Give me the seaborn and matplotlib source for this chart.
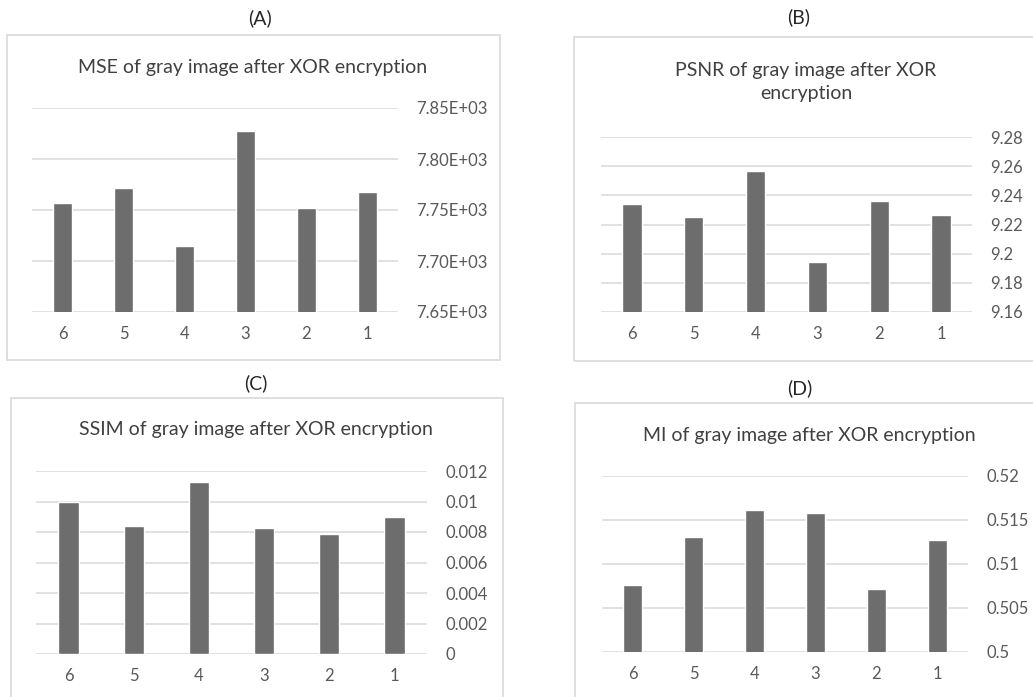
import seaborn as sns
import pandas as pd
import matplotlib.pyplot as plt
import numpy as np
from matplotlib.patches import Rectangle
from matplotlib.ticker import FuncFormatter

categories = ["6", "5", "4", "3", "2", "1"]
mse_values = [7757, 7772, 7715, 7827, 7752, 7768]
psnr_values = [9.2338, 9.2249, 9.2567, 9.1941, 9.2361, 9.2265]
ssim_values = [0.00997, 0.00837, 0.01126, 0.00828, 0.00784, 0.00896]
mi_values = [0.50757, 0.51312, 0.51612, 0.51574, 0.50719, 0.5127]

panel_labels = ["(A)", "(B)", "(C)", "(D)"]
titles = ["MSE of gray image after XOR encryption",
          "PSNR of gray image after XOR\nencryption",
          "SSIM of gray image after XOR encryption",
          "MI of gray image after XOR encryption"]

sns.set_theme(style="white")
plt.rcParams['font.family'] = ['Lato', 'DejaVu Sans']

W, H = 1033, 697
fig = plt.figure(figsize=(W / 100, H / 100), dpi=100)

bar_color = "#6d6d6d"
grid_color = "#d9d9d9"
text_color = "#404040"
tick_color = "#595959"


def px_axes(x0, y0, x1, y1):
    return fig.add_axes([x0 / W, 1 - y1 / H, (x1 - x0) / W, (y1 - y0) / H])


def box(x0, y0, x1, y1):
    fig.patches.append(Rectangle((x0 / W, 1 - y1 / H), (x1 - x0) / W, (y1 - y0) / H,
                                 transform=fig.transFigure, fill=False,
                                 edgecolor=grid_color, linewidth=1.2))


panels = [
    # values, axes px, box px, ylim, step, fmt, label pos, title pos
    (mse_values, (32, 108, 398, 312), (7, 35, 500, 360), (7650, 7850), 50,
     lambda v, p: f"{v:.2E}", (260, 18), (253, 67)),
    (psnr_values, (601, 137, 972, 312), (574, 37, 1040, 361), (9.16, 9.28), 0.02,
     lambda v, p: f"{round(v, 4):g}", (799, 17), (806, 82)),
    (ssim_values, (36, 471, 427, 654), (11, 398, 503, 705), (0, 0.012), 0.002,
     lambda v, p: f"{round(v, 5):g}", (256, 383), (256, 430)),
    (mi_values, (602, 476, 968, 652), (575, 403, 1040, 705), (0.5, 0.52), 0.005,
     lambda v, p: f"{round(v, 5):g}", (800, 388), (809, 436)),
]

for i, (vals, apx, bpx, ylim, step, fmt, lpos, tpos) in enumerate(panels):
    box(*bpx)
    ax = px_axes(*apx)
    df = pd.DataFrame({"cat": categories, "val": vals})
    sns.barplot(data=df, x="cat", y="val", order=categories, color=bar_color,
                saturation=1, width=0.31, ax=ax)
    ax.set_xlim(-0.5, 5.5)
    ax.set_ylim(*ylim)
    ax.set_yticks(np.arange(ylim[0], ylim[1] + step / 2, step))
    ax.yaxis.set_major_formatter(FuncFormatter(fmt))
    ax.yaxis.tick_right()
    ax.grid(axis="y", color=grid_color, linewidth=1.1)
    ax.set_axisbelow(True)
    for s in ax.spines.values():
        s.set_visible(False)
    ax.tick_params(axis="y", length=0, pad=13, labelsize=12, labelcolor=tick_color)
    ax.tick_params(axis="x", length=0, pad=10, labelsize=12, labelcolor=tick_color)
    ax.set_xlabel("")
    ax.set_ylabel("")
    ax.patch.set_alpha(0)
    fig.text(lpos[0] / W, 1 - lpos[1] / H, panel_labels[i], ha="center", va="center",
             fontsize=14, color="#262626")
    fig.text(tpos[0] / W, 1 - tpos[1] / H, titles[i], ha="center", va="center",
             fontsize=14, color=text_color, linespacing=1.45)

fig.savefig("out.png", dpi=100)
